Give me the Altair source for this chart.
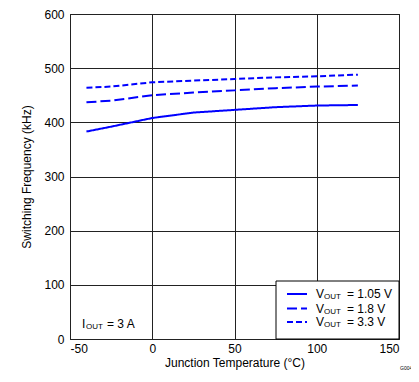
import altair as alt
import pandas as pd

temps = [-40, -25, 0, 25, 50, 75, 100, 125]
f_105 = [383, 392, 408, 418, 423, 428, 431, 432]
f_18 = [437, 440, 450, 455, 459, 463, 466, 468]
f_33 = [464, 466, 474, 477, 480, 483, 485, 488]
series = ["1.05 V", "1.8 V", "3.3 V"]
dashes = [[1, 0], [10, 4], [6, 3]]
x_ticks = [-50, 0, 50, 100, 150]
y_ticks = [0, 100, 200, 300, 400, 500, 600]

rows = []
for name, vals in zip(series, [f_105, f_18, f_33]):
    for t, v in zip(temps, vals):
        rows.append({"t": t, "f": v, "s": name})
df = pd.DataFrame(rows)

FONT = "Liberation Sans"
W, H = 329, 325

x = alt.X("t:Q", scale=alt.Scale(domain=[-50, 150], nice=False),
          axis=alt.Axis(values=x_ticks, title="Junction Temperature (°C)", grid=True,
                        labelExpr="'' + datum.value",
                        ticks=False, domain=False, labelPadding=4, titlePadding=3))
y = alt.Y("f:Q", scale=alt.Scale(domain=[0, 600], nice=False),
          axis=alt.Axis(values=y_ticks, title="Switching Frequency (kHz)", grid=True,
                        ticks=False, domain=False, labelPadding=6, titlePadding=10))

lines = alt.Chart(df).mark_line(strokeWidth=2, color="#0000ff").encode(
    x=x, y=y,
    strokeDash=alt.StrokeDash("s:N", scale=alt.Scale(domain=series, range=dashes), legend=None),
)

# manual legend
leg_box = alt.Chart(pd.DataFrame({"a": [0]})).mark_rect(
    fill="white", stroke="black", strokeWidth=1).encode(
    x=alt.value(206), x2=alt.value(W), y=alt.value(267), y2=alt.value(H))

layers = [lines, leg_box]
ys = [280, 294.5, 308]
for name, d, yy in zip(series, dashes, ys):
    one = pd.DataFrame({"a": [0]})
    layers.append(alt.Chart(one).mark_rule(color="#0000ff", strokeWidth=2, strokeDash=d).encode(
        x=alt.value(217), x2=alt.value(237), y=alt.value(yy)))
    layers.append(alt.Chart(one).mark_text(font=FONT, fontSize=12, align="left", baseline="middle").encode(
        x=alt.value(246), y=alt.value(yy), text=alt.value("V")))
    layers.append(alt.Chart(one).mark_text(font=FONT, fontSize=8, align="left", baseline="middle").encode(
        x=alt.value(254), y=alt.value(yy + 3), text=alt.value("OUT")))
    layers.append(alt.Chart(one).mark_text(font=FONT, fontSize=12, align="left", baseline="middle").encode(
        x=alt.value(277), y=alt.value(yy), text=alt.value("=  " + name)))

one = pd.DataFrame({"a": [0]})
layers.append(alt.Chart(one).mark_text(font=FONT, fontSize=12, align="left", baseline="middle").encode(
    x=alt.value(12), y=alt.value(310), text=alt.value("I")))
layers.append(alt.Chart(one).mark_text(font=FONT, fontSize=8, align="left", baseline="middle").encode(
    x=alt.value(16), y=alt.value(313), text=alt.value("OUT")))
layers.append(alt.Chart(one).mark_text(font=FONT, fontSize=12, align="left", baseline="middle").encode(
    x=alt.value(37), y=alt.value(310), text=alt.value("=  3 A")))
layers.append(alt.Chart(one).mark_text(font=FONT, fontSize=5, align="left", baseline="middle").encode(
    x=alt.value(330), y=alt.value(354), text=alt.value("G004")))

chart = alt.layer(*layers).properties(
    width=W, height=H,
    autosize=alt.AutoSizeParams(type="none"),
    padding={"left": 62, "top": 6, "right": 12, "bottom": 34},
).configure_view(stroke="black", strokeWidth=1).configure_axis(
    gridColor="#222222", gridWidth=1, gridOpacity=1,
    labelFont=FONT, labelFontSize=12, labelColor="black",
    titleFont=FONT, titleFontSize=12, titleColor="black", titleFontWeight="normal",
)

chart.save("out.html", embed_options={"renderer": "svg", "actions": False})
